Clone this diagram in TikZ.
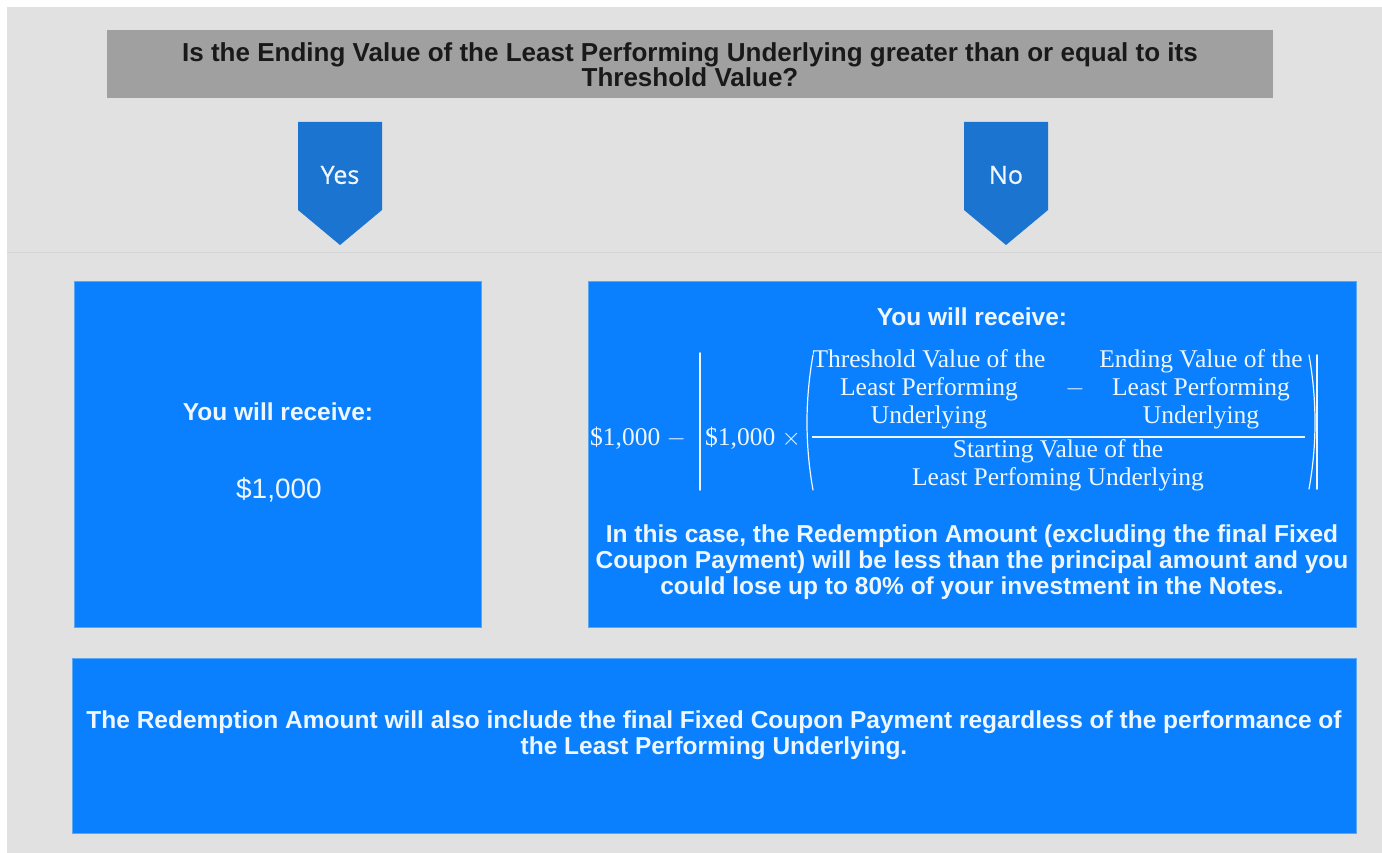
\documentclass[tikz,border=0pt]{standalone}
\usepackage{fontspec}
\setmainfont{Liberation Sans}
\newfontfamily\formfont{Liberation Serif}
\newfontfamily\tagfont[FakeBold=0.6]{Open Sans}
\usetikzlibrary{calc}

\definecolor{bggray}{HTML}{E1E1E1}
\definecolor{linegray}{HTML}{D6D6D6}
\definecolor{qgray}{HTML}{A0A0A0}
\definecolor{tagblue}{HTML}{1A74D0}
\definecolor{boxblue}{HTML}{0A80FE}
\definecolor{boxedge}{HTML}{5CA8F0}
\definecolor{softwhite}{HTML}{EEF6FF}

\begin{document}
\begin{tikzpicture}[x=1pt,y=-1pt,
    question/.style={fill=qgray,inner sep=0pt,align=center,text=black!90,
      font=\fontsize{26}{23}\selectfont\bfseries},
    tag/.style={fill=tagblue},
    tagtext/.style={text=softwhite,font=\tagfont\fontsize{25}{28}\selectfont},
    answerbox/.style={fill=boxblue,draw=boxedge,line width=0.8pt,inner sep=0pt,anchor=north west},
    answertext/.style={text=softwhite,align=center,font=\fontsize{24.5}{26}\selectfont\bfseries},
    formula/.style={text=softwhite,inner sep=0pt,align=center,font=\formfont\fontsize{25.5}{28}\selectfont},
    fence/.style={draw=softwhite,line width=1.6pt,line cap=round}]
  \fill[white] (0,0) rectangle (1382,853);
  \fill[bggray] (7,7) rectangle (1382,853);
  \useasboundingbox (0,0) rectangle (1382,853);
  \draw[linegray] (7,252) -- (1382,252);

  \node[question,minimum width=1166,minimum height=68] (ask) at (690,64.5)
    {Is the Ending Value of the Least Performing Underlying greater than or equal to its\\Threshold Value?};

  \fill[tag] (298,122) -- (382,122) -- (382,210) -- (340,245) -- (298,210) -- cycle;
  \node[tagtext] (yes) at (340,175) {Yes};
  \fill[tag] (964,122) -- (1048,122) -- (1048,210) -- (1006,245) -- (964,210) -- cycle;
  \node[tagtext] (no) at (1006,175) {No};

  \node[answerbox,minimum width=407,minimum height=346] (yesbox) at (74,281) {};
  \node[answertext] (yesget) at (278,412) {You will receive:};
  \node[answertext,font=\fontsize{28}{30}\selectfont] (yesamt) at (279,490) {\$1,000};

  \node[answerbox,minimum width=768,minimum height=346] (nobox) at (588,281) {};
  \node[answertext] (noget) at (972,317) {You will receive:};
  % payout formula
  \node[formula,anchor=west] (outer) at (590,438) {\$1,000 $-$};
  \node[formula,anchor=west] (inner) at (705,438) {\$1,000 $\times$};
  \node[formula] (thresh) at (929,389) {Threshold Value of the\\Least Performing\\Underlying};
  \node[formula] (minus) at (1075,389) {$-$};
  \node[formula] (ending) at (1201,389) {Ending Value of the\\Least Performing\\Underlying};
  \node[formula] (start) at (1058,465) {Starting Value of the\\Least Perfoming Underlying};
  \draw[fence] (700,353) -- (700,490);
  \draw[fence,line width=1.2pt] (813,355) .. controls (805,400) and (805,445) .. (813,490);
  \draw[softwhite,line width=1.3pt] (812,437) -- (1305,437);
  \draw[fence,line width=1.2pt] (1309,355) .. controls (1317,400) and (1317,445) .. (1309,489);
  \draw[fence] (1317,355) -- (1317,489);
  \node[answertext] (nonote) at (972,562)
    {In this case, the Redemption Amount (excluding the final Fixed\\Coupon Payment) will be less than the principal amount and you\\could lose up to 80\% of your investment in the Notes.};

  \node[answerbox,minimum width=1284,minimum height=175] (couponbox) at (72,658) {};
  \node[answertext,font=\fontsize{24.5}{25.5}\selectfont\bfseries] (coupon) at (714,735)
    {The Redemption Amount will also include the final Fixed Coupon Payment regardless of the performance of\\the Least Performing Underlying.};
\end{tikzpicture}
\end{document}
